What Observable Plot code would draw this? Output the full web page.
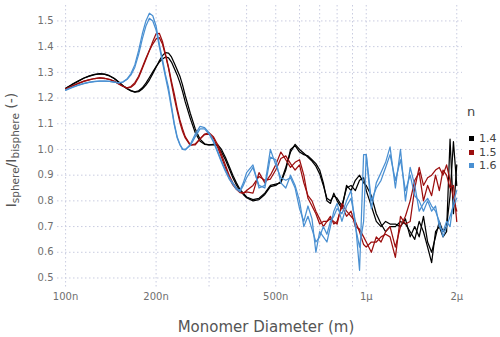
<!DOCTYPE html>
<html><head><meta charset="utf-8">
<script src="https://cdn.jsdelivr.net/npm/d3@7"></script>
<script src="https://cdn.jsdelivr.net/npm/@observablehq/plot@0.6"></script>
<style>
body{margin:0;background:#fff;}
#wrap{position:relative;width:500px;height:337px;font-family:"DejaVu Sans",sans-serif;}
#legend{position:absolute;left:467px;top:104px;color:#444;}
#legend .title{font-size:13px;line-height:16px;margin-bottom:12px;}
#legend .item{font-size:11px;line-height:13.5px;display:flex;align-items:center;}
#legend .sw{width:5px;height:5px;margin-right:5px;margin-left:2px;}
</style></head><body><div id="wrap"><div id="legend"></div></div>
<script>
const diameterNm = [100,105,110,115,120,125,130,135,140,145,150,155,160,165,170,175,180,185,190,195,200,205,210,215,220,225,230,235,240,245,250,
260,270,280,290,300,310,320,330,340,350,360,370,380,390,400,
420,440,460,480,500,520,540,560,580,600,620,640,660,680,700,720,740,760,780,800,
830,860,890,920,950,980,
1000,
1040,1080,1120,1160,1200,
1250,1300,1350,1400,1450,1500,1550,1600,1650,1700,1750,1800,1850,1900,1950,2000];

const n14a = [1.237,1.252,1.265,1.277,1.285,1.291,1.294,1.292,1.286,1.276,1.262,1.248,1.236,1.228,1.223,1.225,1.235,1.25,1.27,1.295,1.32,1.345,1.365,1.377,1.375,1.36,1.335,1.31,1.285,1.25,1.21,
1.14,1.08,1.04,1.022,1.018,1.02,1.02,1.0,0.97,0.935,0.90,0.87,0.845,0.83,0.815,
0.805,0.81,0.83,0.86,0.865,0.87,0.92,1.0,1.015,0.99,0.98,0.975,0.96,0.945,0.92,0.87,0.80,0.79,0.83,0.80,
0.77,0.86,0.84,0.88,0.90,0.87,
0.86,
0.82,0.75,0.71,0.68,0.70,
0.70,0.72,0.71,0.68,0.65,0.72,0.68,0.62,0.56,0.68,0.70,0.66,0.68,1.04,0.75,0.94];
const n14b = [1.238,1.253,1.266,1.278,1.286,1.292,1.295,1.293,1.287,1.277,1.263,1.249,1.237,1.229,1.224,1.228,1.24,1.258,1.28,1.302,1.322,1.34,1.352,1.36,1.356,1.34,1.315,1.29,1.26,1.225,1.185,
1.12,1.065,1.032,1.02,1.018,1.018,1.015,0.99,0.96,0.925,0.89,0.862,0.84,0.825,0.812,
0.80,0.805,0.825,0.855,0.86,0.875,0.93,0.99,1.02,1.0,0.985,0.97,0.955,0.935,0.905,0.86,0.81,0.80,0.82,0.81,
0.78,0.85,0.86,0.84,0.88,0.89,
0.84,
0.78,0.72,0.70,0.72,0.71,
0.71,0.70,0.73,0.66,0.70,0.66,0.74,0.64,0.60,0.66,0.72,0.68,0.70,0.82,1.03,0.86];
const n15a = [1.235,1.246,1.256,1.265,1.271,1.276,1.278,1.277,1.273,1.266,1.256,1.246,1.239,1.242,1.255,1.28,1.315,1.35,1.385,1.42,1.45,1.452,1.42,1.37,1.32,1.265,1.215,1.16,1.115,1.08,1.05,
1.018,1.018,1.04,1.06,1.065,1.05,1.02,0.98,0.94,0.90,0.87,0.85,0.835,0.83,0.835,
0.83,0.91,0.87,0.90,0.94,0.99,0.96,0.93,0.95,0.96,0.90,0.81,0.78,0.75,0.71,0.72,0.72,0.73,0.72,0.71,
0.79,0.76,0.74,0.72,0.68,0.63,
0.62,
0.64,0.64,0.66,0.67,0.66,
0.58,0.74,0.71,0.72,0.85,0.93,0.86,0.89,0.90,0.92,0.93,0.90,0.94,0.88,0.81,0.76];
const n15b = [1.236,1.247,1.257,1.266,1.272,1.276,1.278,1.276,1.272,1.265,1.255,1.246,1.24,1.245,1.26,1.285,1.32,1.355,1.385,1.41,1.43,1.435,1.41,1.365,1.315,1.255,1.20,1.15,1.105,1.07,1.045,
1.016,1.022,1.042,1.058,1.06,1.045,1.01,0.97,0.93,0.89,0.862,0.845,0.832,0.83,0.84,
0.86,0.895,0.88,0.885,0.92,0.965,0.975,0.945,0.92,0.94,0.87,0.82,0.80,0.76,0.73,0.70,0.72,0.74,0.71,0.72,
0.78,0.74,0.76,0.70,0.69,0.66,
0.64,
0.60,0.66,0.64,0.68,0.70,
0.62,0.70,0.74,0.80,0.88,0.91,0.80,0.86,0.82,0.90,0.84,0.92,0.90,0.85,0.86,0.72];
const n16a = [1.23,1.24,1.249,1.256,1.261,1.264,1.266,1.266,1.265,1.262,1.259,1.262,1.274,1.295,1.33,1.385,1.45,1.50,1.53,1.52,1.48,1.41,1.35,1.29,1.24,1.17,1.10,1.05,1.02,1.0,0.998,
1.02,1.06,1.09,1.085,1.065,1.035,0.995,0.955,0.92,0.89,0.87,0.85,0.84,0.87,0.91,
0.94,0.85,0.86,1.0,0.94,0.89,0.88,0.89,0.85,0.77,0.72,0.78,0.73,0.60,0.68,0.66,0.64,0.70,0.76,0.79,
0.72,0.78,0.81,0.72,0.53,0.98,
0.98,
0.77,0.87,0.91,0.95,1.01,
0.85,1.00,0.80,0.93,0.86,0.76,0.79,0.81,0.78,0.76,0.72,0.66,0.70,0.74,0.78,0.81];
const n16b = [1.232,1.242,1.25,1.257,1.262,1.265,1.266,1.266,1.265,1.262,1.259,1.262,1.272,1.29,1.32,1.37,1.43,1.48,1.51,1.50,1.465,1.40,1.34,1.28,1.225,1.16,1.095,1.045,1.018,1.002,1.0,
1.015,1.05,1.08,1.08,1.06,1.03,0.99,0.95,0.915,0.885,0.865,0.845,0.835,0.86,0.89,
0.93,0.86,0.85,0.97,0.96,0.87,0.85,0.90,0.86,0.80,0.70,0.74,0.69,0.64,0.66,0.70,0.67,0.72,0.74,0.77,
0.75,0.80,0.84,0.70,0.62,0.72,
0.98,
0.80,0.85,0.88,0.93,0.98,
0.88,0.96,0.84,0.90,0.82,0.80,0.76,0.80,0.76,0.78,0.70,0.68,0.72,0.70,0.80,0.84];

const seriesNames = ["1.4","1.5","1.6"];
const seriesColors = ["#000000","#9c0e0e","#4a90d2"];
const xTickValues = [1e-7,2e-7,5e-7,1e-6,2e-6];
const xTickLabels = ["100n","200n","500n","1µ","2µ"];
const xGridValues = [1e-7,2e-7,3e-7,4e-7,5e-7,6e-7,7e-7,8e-7,9e-7,1e-6,2e-6];
const yTickValues = [0.5,0.6,0.7,0.8,0.9,1.0,1.1,1.2,1.3,1.4,1.5];

const traces = [[n14a,"1.4","a"],[n14b,"1.4","b"],[n15a,"1.5","a"],[n15b,"1.5","b"],[n16a,"1.6","a"],[n16b,"1.6","b"]];
const rows = [];
traces.forEach(([vals,n,k]) => vals.forEach((v,i) => rows.push({d: diameterNm[i]*1e-9, v, n, id: n + k})));

const gridStyle = {stroke:"#c9cce0", strokeDasharray:"1.5,2.5", strokeWidth:1};

const chart = Plot.plot({
  width:500, height:337,
  marginLeft:57, marginRight:38, marginTop:5, marginBottom:50,
  style:{fontFamily:"DejaVu Sans", fontSize:"10px", color:"#6f6f6f", background:"#fff"},
  x:{type:"log", domain:[94e-9,2.09e-6], ticks:xTickValues,
     tickFormat:d => xTickLabels[xTickValues.findIndex(t => Math.abs(t-d)/t < 1e-6)],
     tickSize:0, tickPadding:5, label:null},
  y:{domain:[0.463,1.56], ticks:yTickValues, tickFormat:d3.format(".1f"), tickSize:0, tickPadding:4, label:null},
  color:{domain:seriesNames, range:seriesColors},
  marks:[
    Plot.ruleX(xGridValues, gridStyle),
    Plot.ruleY(yTickValues, gridStyle),
    Plot.line(rows, {x:"d", y:"v", z:"id", stroke:"n", strokeWidth:1.25})
  ]
});

const svg = d3.select(chart);
svg.append("text")
  .attr("x", 266).attr("y", 332)
  .attr("text-anchor","middle")
  .attr("fill","#555")
  .style("font-size","15px").style("font-family","DejaVu Sans")
  .text("Monomer Diameter (m)");

const yl = svg.append("text")
  .attr("transform","translate(16,150) rotate(-90)")
  .attr("text-anchor","middle")
  .attr("fill","#555")
  .style("font-size","14px").style("font-family","DejaVu Sans");
yl.append("tspan").text("I");
yl.append("tspan").attr("dy",3).style("font-size","10.5px").text("sphere");
yl.append("tspan").attr("dy",-3).text("/I");
yl.append("tspan").attr("dy",3).style("font-size","10.5px").text("bisphere");
yl.append("tspan").attr("dy",-3).text(" (-)");

document.getElementById("wrap").prepend(chart);

const legend = d3.select("#legend");
legend.append("div").attr("class","title").text("n");
seriesNames.forEach((name,i) => {
  const it = legend.append("div").attr("class","item");
  it.append("div").attr("class","sw").style("background", seriesColors[i]);
  it.append("span").text(name);
});
</script>
</body></html>
